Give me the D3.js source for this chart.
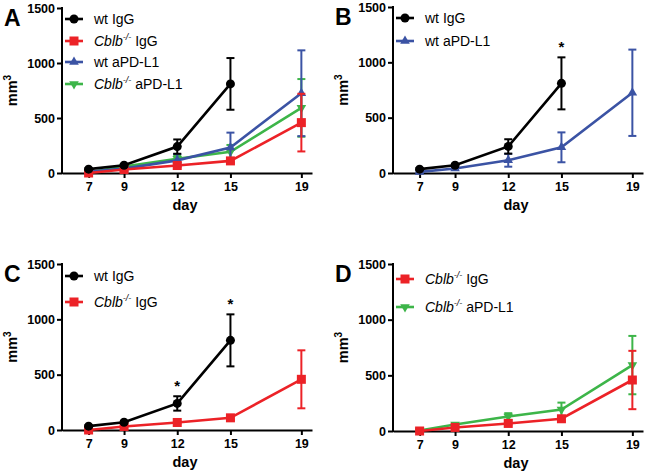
<!DOCTYPE html>
<html>
<head>
<meta charset="utf-8">
<script src="https://cdn.jsdelivr.net/npm/d3@7"></script>
<style>
  body { margin: 0; background: #fff; }
  svg { display: block; font-family: "Liberation Sans", Arial, sans-serif; }
</style>
</head>
<body>
<svg id="chart" width="648" height="472"></svg>
<script>
// tumour volume by day, four groups
var days = [7, 9, 12, 15, 19];
var yTicks = [0, 500, 1000, 1500];

var wtIgG      = [35, 70, 240, 810, null];
var wtIgGErr   = [10, 12, 65, 235, null];
var cblbIgG    = [0, 32, 68, 110, 458];
var cblbIgGErr = [8, 10, 14, 22, 262];
var wtPD       = [10, 40, 115, 232, 725];
var wtPDErr    = [8, 12, 58, 135, 390];
var cblbPD     = [5, 58, 130, 193, 592];
var cblbPDErr  = [8, 14, 30, 62, 262];

var series = {
	wtIgG:   {vals: wtIgG,   err: wtIgGErr,   color: "#000000", shape: "circle", label: ["wt IgG"]},
	cblbIgG: {vals: cblbIgG, err: cblbIgGErr, color: "#ec2227", shape: "square", label: ["Cblb", "-/-", " IgG"]},
	wtPD:    {vals: wtPD,    err: wtPDErr,    color: "#3b53a4", shape: "up",     label: ["wt aPD-L1"]},
	cblbPD:  {vals: cblbPD,  err: cblbPDErr,  color: "#3db549", shape: "down",   label: ["Cblb", "-/-", " aPD-L1"]}
};

var panels = [
	{letter: "A", left: 62,  top: 8,   bottom: 173, draw: ["cblbPD", "wtPD", "cblbIgG", "wtIgG"],
	 legend: ["wtIgG", "cblbIgG", "wtPD", "cblbPD"], legY: [19, 41, 62, 84], stars: []},
	{letter: "B", left: 393, top: 7,   bottom: 173, draw: ["wtPD", "wtIgG"],
	 legend: ["wtIgG", "wtPD"], legY: [18, 41], stars: [[15, 1045]]},
	{letter: "C", left: 62,  top: 264, bottom: 430, draw: ["cblbIgG", "wtIgG"],
	 legend: ["wtIgG", "cblbIgG"], legY: [276, 302], stars: [[12, 305], [15, 1045]]},
	{letter: "D", left: 393, top: 264, bottom: 431, draw: ["cblbPD", "cblbIgG"],
	 legend: ["cblbIgG", "cblbPD"], legY: [279, 307], stars: []}
];

var svg = d3.select("#chart");

function marker(g, shape, color, cx, cy){
	if (shape == "circle") {
		g.append("circle").attr("cx", cx).attr("cy", cy).attr("r", 4.5).attr("fill", color);
	}
	else if (shape == "square") {
		g.append("rect").attr("x", cx - 4.5).attr("y", cy - 4.5).attr("width", 9).attr("height", 9).attr("fill", color);
	}
	else {
		var sym = d3.symbol().type(d3.symbolTriangle).size(40);
		g.append("path").attr("d", sym)
			.attr("transform", "translate(" + cx + "," + cy + ")" + (shape == "down" ? " rotate(180)" : ""))
			.attr("fill", color);
	}
}

function drawLabel(txt, parts){
	if (parts.length == 1) { txt.append("tspan").text(parts[0]); return; }
	txt.append("tspan").attr("font-style", "italic").text(parts[0]);
	txt.append("tspan").attr("font-style", "italic").attr("font-size", 9).attr("dy", -6).text(parts[1]);
	txt.append("tspan").attr("dy", 6).text(parts[2]);
}

panels.forEach(function(p){
	var g = svg.append("g");
	var x = d3.scaleLinear().domain([5.5, 19.6]).range([p.left, p.left + 250]);
	var y = d3.scaleLinear().domain([0, 1500]).range([p.bottom, p.top]);

	// axes
	var ya = g.append("g").attr("transform", "translate(" + p.left + ",0)")
		.call(d3.axisLeft(y).tickValues(yTicks).tickFormat(d3.format("d"))
			.tickSize(5).tickSizeOuter(0).tickPadding(2));
	var xa = g.append("g").attr("transform", "translate(0," + p.bottom + ")")
		.call(d3.axisBottom(x).tickValues(days).tickSize(5).tickSizeOuter(0).tickPadding(4));
	[ya, xa].forEach(function(a){
		a.select(".domain").attr("stroke-width", 2);
		a.selectAll(".tick line").attr("stroke-width", 2);
		a.selectAll("text").attr("font-size", 12.5).attr("font-weight", "bold").attr("fill", "#000");
	});
	ya.select(".domain").attr("d", "M0," + (p.top - 1) + "V" + (p.bottom + 1));

	g.append("text").attr("x", (p.left + p.left + 250) / 2 - 2).attr("y", p.bottom + 37)
		.attr("text-anchor", "middle").attr("font-size", 14.5).attr("font-weight", "bold").text("day");

	var yt = g.append("text")
		.attr("transform", "translate(" + (p.left - 45) + "," + ((p.top + p.bottom) / 2) + ") rotate(-90)")
		.attr("text-anchor", "middle").attr("font-size", 14.5).attr("font-weight", "bold");
	yt.append("tspan").text("mm");
	yt.append("tspan").attr("font-size", 10).attr("dy", -6).text("3");

	g.append("text").attr("x", p.left - 58).attr("y", p.top + 18)
		.attr("font-size", 23).attr("font-weight", "bold").text(p.letter);

	// series
	var line = d3.line().defined(function(d){ return d != null; })
		.x(function(d, i){ return x(days[i]); })
		.y(function(d){ return y(d); });

	p.draw.forEach(function(key){
		var s = series[key];
		var sg = g.append("g");
		s.vals.forEach(function(v, i){
			if (v == null) return;
			var e = s.err[i], cx = x(days[i]);
			sg.append("line").attr("x1", cx).attr("x2", cx).attr("y1", y(Math.max(0, v - e))).attr("y2", y(v + e))
				.attr("stroke", s.color).attr("stroke-width", 2);
			[v + e, v - e].forEach(function(b){
				if (b < 0) return;
				sg.append("line").attr("x1", cx - 4).attr("x2", cx + 4).attr("y1", y(b)).attr("y2", y(b))
					.attr("stroke", s.color).attr("stroke-width", 2);
			});
		});
		sg.append("path").datum(s.vals).attr("d", line)
			.attr("fill", "none").attr("stroke", s.color).attr("stroke-width", 2.6);
		s.vals.forEach(function(v, i){
			if (v == null) return;
			marker(sg, s.shape, s.color, x(days[i]), y(v));
		});
	});

	p.stars.forEach(function(st){
		g.append("text").attr("x", x(st[0])).attr("y", y(st[1]) - 5).attr("text-anchor", "middle")
			.attr("font-size", 15).attr("font-weight", "bold").text("*");
	});

	// legend
	var lx = p.left + 3;
	p.legend.forEach(function(key, i){
		var s = series[key], ly = p.legY[i];
		g.append("line").attr("x1", lx).attr("x2", lx + 18).attr("y1", ly).attr("y2", ly)
			.attr("stroke", s.color).attr("stroke-width", 2.6);
		marker(g, s.shape, s.color, lx + 9, ly);
		var t = g.append("text").attr("x", lx + 29).attr("y", ly + 5).attr("font-size", 14);
		drawLabel(t, s.label);
	});
});
</script>
</body>
</html>
